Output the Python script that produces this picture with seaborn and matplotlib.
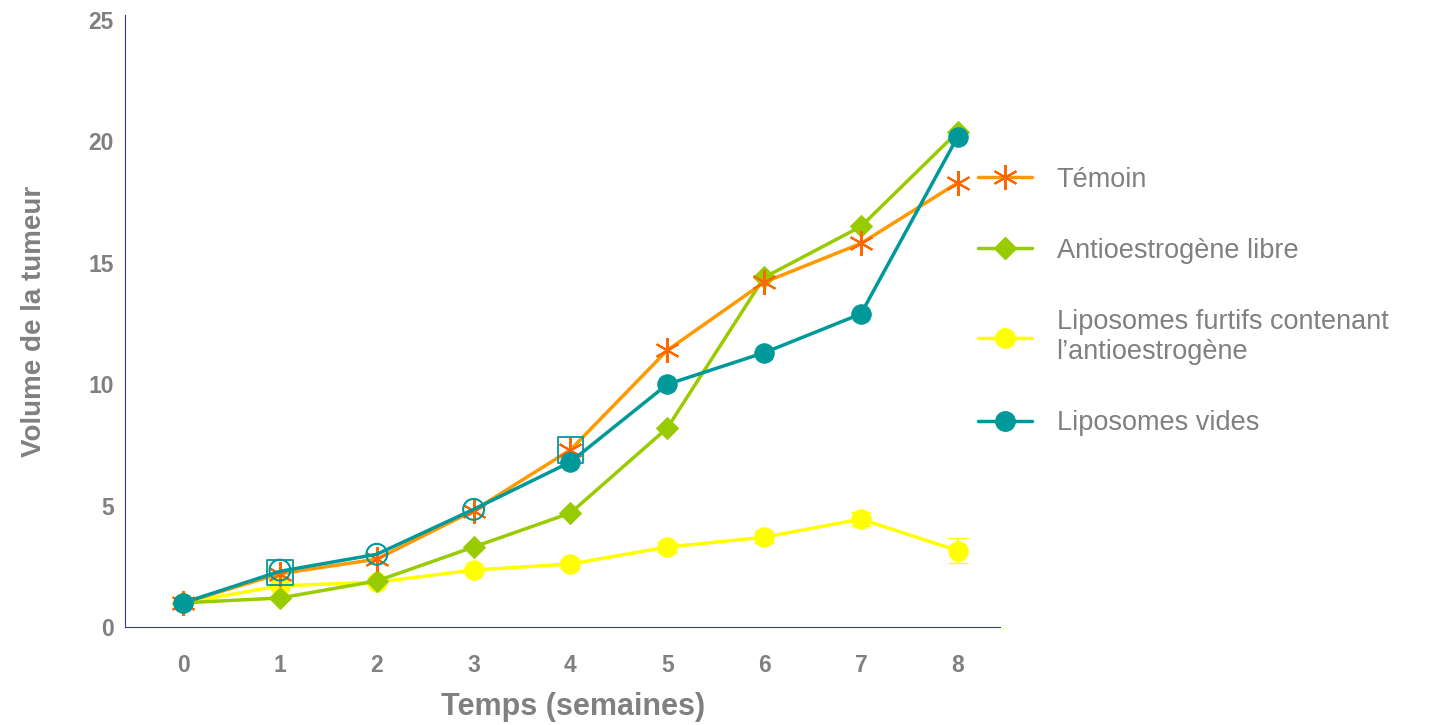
import numpy as np
import pandas as pd
import seaborn as sns
import matplotlib.pyplot as plt
from matplotlib.lines import Line2D

sns.set_style("white")
plt.rcParams['font.family'] = ['Liberation Sans', 'DejaVu Sans']

# Data
semaines = [0, 1, 2, 3, 4, 5, 6, 7, 8]
temoin = [1.0, 2.2, 2.8, 4.8, 7.3, 11.4, 14.2, 15.8, 18.3]
antio_libre = [1.0, 1.2, 1.9, 3.3, 4.7, 8.2, 14.4, 16.5, 20.4]
lipo_furtifs = [1.0, 1.7, 1.85, 2.35, 2.6, 3.3, 3.7, 4.45, 3.15]
lipo_furtifs_err = [0.1, 0.15, 0.1, 0.1, 0.15, 0.2, 0.25, 0.3, 0.5]
lipo_vides = [1.0, 2.3, 3.0, 4.85, 6.8, 10.0, 11.3, 12.9, 20.2]

# open markers overlaid on a few points
cercles_x = [1, 2, 3]
cercles_y = [2.35, 3.0, 4.85]
carres_x = [1, 4]
carres_y = [2.25, 7.3]

labels = ["Témoin", "Antioestrogène libre",
          "Liposomes furtifs contenant\nl\u2019antioestrogène", "Liposomes vides"]

c_orange = "#FF9900"
c_star = "#FF6600"
c_green = "#99CC00"
c_yellow = "#FFFF00"
c_teal = "#009999"
gris = "#808080"

df = pd.DataFrame({
    "t": semaines,
    "temoin": temoin,
    "libre": antio_libre,
    "furtifs": lipo_furtifs,
    "vides": lipo_vides,
})

fig = plt.figure(figsize=(14.54, 7.25), dpi=100)
ax = fig.add_axes([0.086, 0.135, 0.602, 0.844])

ax.errorbar(semaines, lipo_furtifs, yerr=lipo_furtifs_err, fmt="none",
            ecolor=c_yellow, elinewidth=1.5, capsize=7, zorder=2)
sns.lineplot(data=df, x="t", y="furtifs", ax=ax, color=c_yellow, lw=2.5,
             marker="o", markersize=14, markeredgecolor=c_yellow, zorder=3)
sns.lineplot(data=df, x="t", y="libre", ax=ax, color=c_green, lw=2.5,
             marker="D", markersize=11, markeredgecolor=c_green, zorder=4)
sns.lineplot(data=df, x="t", y="temoin", ax=ax, color=c_orange, lw=2.5,
             marker=(6, 2, 0), markersize=18, markeredgecolor=c_star,
             markeredgewidth=1.5, zorder=5)
# filled markers only where the original shows them (open circles at 1-3)
sns.lineplot(data=df, x="t", y="vides", ax=ax, color=c_teal, lw=2.5,
             marker="o", markersize=14, markeredgecolor=c_teal,
             markevery=[0, 4, 5, 6, 7, 8], zorder=6)

ax.scatter(cercles_x, cercles_y, s=225, facecolors="none", edgecolors=c_teal,
           linewidths=1.5, zorder=7)
ax.scatter(carres_x, carres_y, s=340, marker="s", facecolors="none",
           edgecolors=c_teal, linewidths=1.3, zorder=7)

ax.set_xlim(-0.6, 8.44)
ax.set_ylim(0, 25.2)
ax.set_xticks(semaines)
ax.set_yticks([0, 5, 10, 15, 20, 25])
ax.tick_params(length=0, labelsize=16.5, labelcolor=gris)
ax.tick_params(axis="x", pad=19)
ax.tick_params(axis="y", pad=8)
for lab in ax.get_xticklabels() + ax.get_yticklabels():
    lab.set_fontweight("bold")

ax.set_xlabel("Temps (semaines)", fontsize=22, fontweight="bold", color=gris)
ax.xaxis.set_label_coords(0.512, -0.106)
ax.set_ylabel("Volume de la tumeur", fontsize=20, fontweight="bold", color=gris, labelpad=30)

for s in ["top", "right"]:
    ax.spines[s].set_visible(False)
for s in ["left", "bottom"]:
    ax.spines[s].set_color("#3333AA")
    ax.spines[s].set_linewidth(0.8)

handles = [
    Line2D([], [], color=c_orange, lw=2.5, marker=(6, 2, 0), markersize=18,
           markeredgecolor=c_star, markeredgewidth=1.5),
    Line2D([], [], color=c_green, lw=2.5, marker="D", markersize=11,
           markeredgecolor=c_green),
    Line2D([], [], color=c_yellow, lw=2.5, marker="o", markersize=14,
           markeredgecolor=c_yellow),
    Line2D([], [], color=c_teal, lw=2.5, marker="o", markersize=14,
           markeredgecolor=c_teal),
]
leg = fig.legend(handles, labels, loc="upper left", bbox_to_anchor=(0.6726, 0.77),
                 frameon=False, fontsize=19.5, labelspacing=1.67,
                 handlelength=2.0, handletextpad=0.9, borderpad=0, borderaxespad=0)
for t in leg.get_texts():
    t.set_color(gris)

fig.savefig("out.png", dpi=100)
